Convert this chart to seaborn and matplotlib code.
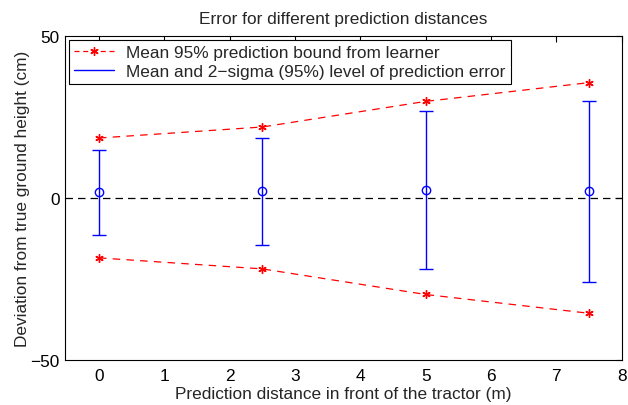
import matplotlib
matplotlib.use("Agg")
import matplotlib.pyplot as plt
import seaborn as sns
import pandas as pd
from matplotlib.lines import Line2D

distances = [0, 2.5, 5, 7.5]
upper_bound = [18.5, 21.9, 29.8, 35.6]
lower_bound = [-18.5, -21.9, -29.8, -35.6]
mean_error = [1.8, 2.0, 2.4, 2.1]
two_sigma = [13.1, 16.5, 24.3, 27.9]

sns.set_style("white")
plt.rcParams['font.family'] = ['Liberation Sans', 'DejaVu Sans']

FS = 12.4
fig = plt.figure(figsize=(6.28, 4.06), dpi=100)
ax = fig.add_axes([0.1035, 0.111, 0.8865, 0.798])

df_up = pd.DataFrame({"x": distances, "y": upper_bound})
df_lo = pd.DataFrame({"x": distances, "y": lower_bound})

ast = (6, 2, 0)
ax.axhline(0, color="black", linestyle=(0, (6, 4)), linewidth=0.9, zorder=1)
sns.lineplot(data=df_up, x="x", y="y", ax=ax, color="red", linestyle=(0, (6, 5)),
             marker=ast, markersize=6, markeredgecolor="red", markeredgewidth=1.0,
             linewidth=0.9, legend=False)
sns.lineplot(data=df_lo, x="x", y="y", ax=ax, color="red", linestyle=(0, (6, 5)),
             marker=ast, markersize=6, markeredgecolor="red", markeredgewidth=1.0,
             linewidth=0.9, legend=False)
ax.errorbar(distances, mean_error, yerr=two_sigma, fmt="o", color="blue",
            mfc="none", markersize=6, capsize=5, elinewidth=1.0, capthick=1.0)

ax.set_xlim(-0.52, 8)
ax.set_ylim(-50, 50)
ax.set_xticks(range(0, 9))
ax.set_yticks([-50, 0, 50])
ax.set_yticklabels(["\u221250", "0", "50"])
ax.tick_params(direction="in", top=True, right=True, length=4, labelsize=FS,
               colors="black", pad=4)
ax.tick_params(axis="x", pad=6)
for s in ax.spines.values():
    s.set_color("black")
    s.set_linewidth(0.8)

ax.set_xlabel("Prediction distance in front of the tractor (m)", fontsize=FS, labelpad=2)
ax.set_ylabel("Deviation from true ground height (cm)", fontsize=FS, labelpad=0)
ax.set_title("Error for different prediction distances", fontsize=FS, pad=9)

h1 = Line2D([], [], color="red", linestyle=(0, (4, 3)), marker=ast, markersize=6,
            markeredgewidth=1.0, linewidth=0.9)
h2 = Line2D([], [], color="blue", linewidth=1.0)
leg = ax.legend([h1, h2], ["Mean 95% prediction bound from learner",
                           "Mean and 2\u2212sigma (95%) level of prediction error"],
                loc="upper left", fontsize=FS, frameon=True, fancybox=False,
                edgecolor="black", borderpad=0.3, labelspacing=0.2, handlelength=2.3,
                borderaxespad=0.25, handletextpad=0.7, framealpha=1)
leg.get_frame().set_linewidth(0.8)

fig.savefig("out.png", dpi=100)
